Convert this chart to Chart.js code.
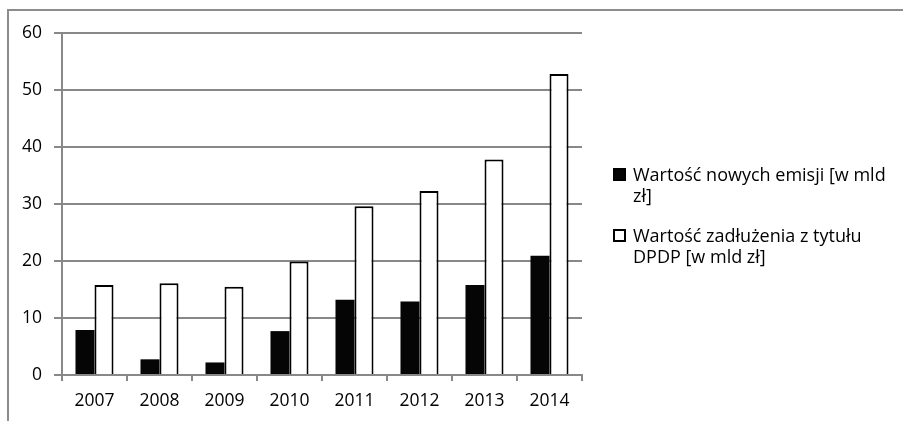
<!DOCTYPE html>
<html lang="pl">
<head>
<meta charset="utf-8">
<script src="https://cdn.jsdelivr.net/npm/chart.js@4/dist/chart.umd.min.js"></script>
<style>
  html, body { margin: 0; padding: 0; background: #fff; }
  #wrap { position: relative; width: 903px; height: 421px; overflow: hidden; }
  #frame { position: absolute; left: 7px; top: 9px; right: 0; bottom: 0;
           border-left: 2px solid #8c8c8c; border-top: 2px solid #8c8c8c; }
  canvas { position: absolute; left: 0; top: 0; }
  #legend { position: absolute; left: 613px; top: 163.5px; width: 288px;
            font-family: "Open Sans", Lato, sans-serif; font-size: 18px; color: #000; }
  .item { display: flex; align-items: flex-start; margin-bottom: 19px; }
  .box { flex: none; width: 13px; height: 13px; margin: 4.5px 7px 0 0; border: 2px solid #000; box-sizing: border-box; }
  .txt { width: 262px; line-height: 21px; }
</style>
</head>
<body>
<div id="wrap">
  <div id="frame"></div>
  <canvas id="c" width="903" height="421"></canvas>
  <div id="legend"></div>
</div>
<script>
// Years on the category axis
const years = ['2007', '2008', '2009', '2010', '2011', '2012', '2013', '2014'];
// New issues value [bn PLN]
const newIssues = [7.9, 2.75, 2.2, 7.7, 13.2, 12.9, 15.8, 20.9];
// Debt outstanding from DPDP [bn PLN]
const dpdpDebt = [15.8, 16.1, 15.5, 19.9, 29.6, 32.3, 37.8, 52.8];
// Series names
const seriesNames = ['Wartość nowych emisji [w mld zł]', 'Wartość zadłużenia z tytułu DPDP [w mld zł]'];
// Value axis ticks
const yTicks = [0, 10, 20, 30, 40, 50, 60];

const GRID = '#888888';
const FONT = { family: '"Open Sans", Lato, sans-serif', size: 17.5 };

const chart = new Chart(document.getElementById('c'), {
  type: 'bar',
  data: {
    labels: years,
    datasets: [
      { label: seriesNames[0], data: newIssues, backgroundColor: '#050505', borderWidth: 0 },
      { label: seriesNames[1], data: dpdpDebt, backgroundColor: '#ffffff', borderColor: '#000000', borderWidth: 2 }
    ]
  },
  options: {
    responsive: false,
    animation: false,
    categoryPercentage: 0.585,
    barPercentage: 1,
    layout: { padding: { top: 33, left: 0, right: 321, bottom: 0 } },
    plugins: { legend: { display: false }, tooltip: { enabled: false } },
    scales: {
      x: {
        grid: { drawOnChartArea: false, drawTicks: true, tickLength: 6, color: GRID, lineWidth: 2, offset: true },
        border: { color: GRID, width: 2 },
        ticks: { color: '#000', font: FONT, padding: 10 },
        afterFit: s => { s.height = 46; }
      },
      y: {
        min: 0, max: 60,
        afterBuildTicks: s => { s.ticks = yTicks.map(v => ({ value: v })); },
        grid: { color: GRID, lineWidth: 2, tickLength: 8 },
        border: { color: GRID, width: 2 },
        ticks: { color: '#000', font: FONT, padding: 12 },
        afterFit: s => { s.width = 62; }
      }
    }
  }
});

// Legend built from the dataset definitions
const legend = document.getElementById('legend');
chart.data.datasets.forEach(ds => {
  const item = document.createElement('div');
  item.className = 'item';
  const box = document.createElement('div');
  box.className = 'box';
  box.style.background = ds.backgroundColor;
  const txt = document.createElement('div');
  txt.className = 'txt';
  txt.textContent = ds.label;
  item.appendChild(box);
  item.appendChild(txt);
  legend.appendChild(item);
});
</script>
</body>
</html>
